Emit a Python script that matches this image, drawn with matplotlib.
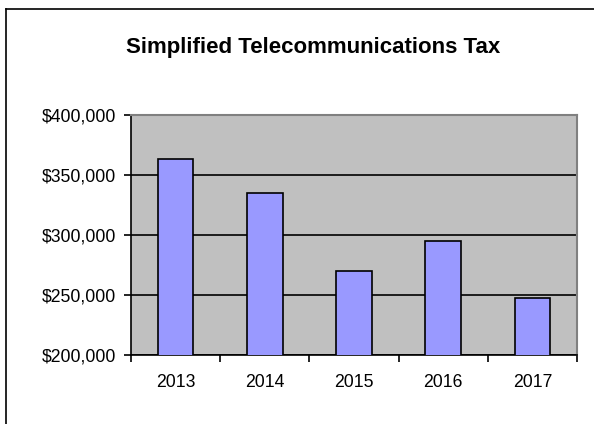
import matplotlib
matplotlib.use("Agg")
import matplotlib.pyplot as plt
from matplotlib.lines import Line2D
from matplotlib.ticker import FuncFormatter, FixedLocator

years = ["2013", "2014", "2015", "2016", "2017"]
tax = [363000, 335000, 270000, 295000, 247500]
y_ticks = [200000, 250000, 300000, 350000, 400000]
title = "Simplified Telecommunications Tax"

plt.rcParams['font.family'] = ['Liberation Sans', 'DejaVu Sans']

fig = plt.figure(figsize=(5.94, 4.24), dpi=100)
fig.patch.set_facecolor('white')

# outer chart border (top and left visible)
fig.add_artist(Line2D([6/594, 6/594], [0, 1 - 9/424], transform=fig.transFigure, color='black', lw=1.2))
fig.add_artist(Line2D([6/594, 1], [1 - 9/424, 1 - 9/424], transform=fig.transFigure, color='black', lw=1.2))

ax = fig.add_axes([131/594, 1 - 355/424, 446/594, 240/424])
ax.set_facecolor('#C0C0C0')

x = list(range(len(years)))
ax.bar(x, tax, width=0.4, color='#9999FF', edgecolor='black', linewidth=1.2, zorder=3)
ax.set_xlim(-0.5, len(years) - 0.5)
ax.set_ylim(y_ticks[0], y_ticks[-1])

ax.yaxis.set_major_locator(FixedLocator(y_ticks))
ax.yaxis.set_major_formatter(FuncFormatter(lambda v, p: f"${v:,.0f}"))
ax.grid(axis='y', color='black', linewidth=1.2, zorder=1)

ax.set_xticks(x)
ax.set_xticklabels(years)
ax.set_xticks([i + 0.5 for i in range(-1, len(years))], minor=True)
ax.tick_params(axis='x', which='major', length=0, pad=14, labelsize=12.7)
ax.tick_params(axis='x', which='minor', length=5, width=1.2, direction='out')
ax.tick_params(axis='y', which='major', length=5, width=1.2, direction='out', pad=6, labelsize=12.7)

for s in ['left', 'bottom']:
    ax.spines[s].set_color('black')
    ax.spines[s].set_linewidth(1.2)
for s in ['top', 'right']:
    ax.spines[s].set_color('#808080')
    ax.spines[s].set_linewidth(1.5)

fig.text(313/594, 1 - 47/424, title, ha='center', va='center', fontsize=16, fontweight='bold')

fig.savefig("out.png", dpi=100)
